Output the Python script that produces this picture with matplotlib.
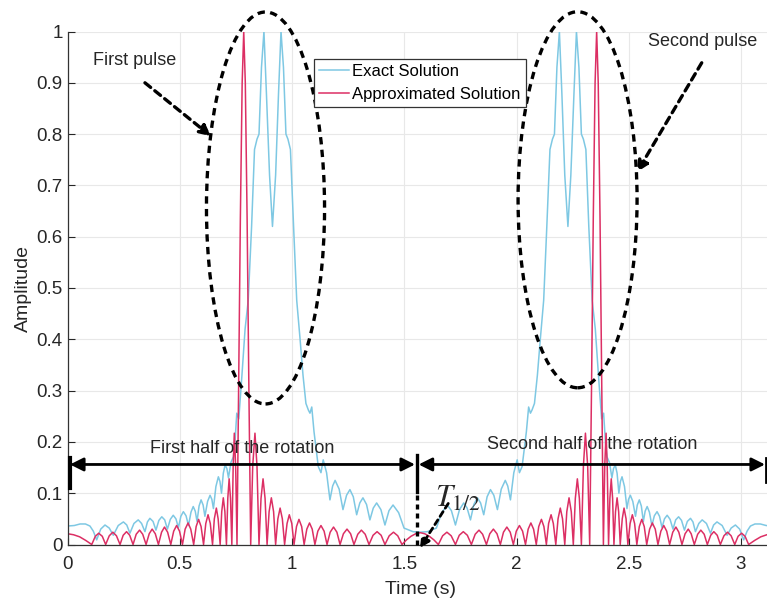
import numpy as np
import matplotlib
matplotlib.use("Agg")
import matplotlib.pyplot as plt
from matplotlib.patches import Ellipse

plt.rcParams['font.family'] = ['Liberation Sans', 'DejaVu Sans']
plt.rcParams['mathtext.fontset'] = 'stix'

# ---- data -------------------------------------------------------------
# Exact solution (light blue): time (s) and amplitude
exact_t = [
    0.000, 0.030, 0.056, 0.080, 0.100, 0.115, 0.130, 0.148, 0.167, 0.186,
    0.204, 0.226, 0.249, 0.264, 0.278, 0.296, 0.315, 0.330, 0.345, 0.356,
    0.367, 0.381, 0.394, 0.407, 0.420, 0.433, 0.445, 0.458, 0.471, 0.483,
    0.494, 0.505, 0.516, 0.528, 0.539, 0.550, 0.560, 0.569, 0.577, 0.586,
    0.595, 0.604, 0.612, 0.624, 0.635, 0.643, 0.650, 0.661, 0.672, 0.679,
    0.686, 0.694, 0.702, 0.710, 0.717, 0.728, 0.739, 0.746, 0.754, 0.763,
    0.777, 0.791, 0.805, 0.820, 0.833, 0.844, 0.853, 0.864, 0.875, 0.886,
    0.900, 0.913, 0.927, 0.940, 0.951, 0.962, 0.973, 0.982, 0.993, 1.007,
    1.021, 1.036, 1.049, 1.062, 1.073, 1.080, 1.088, 1.098, 1.117, 1.129,
    1.139, 1.154, 1.169, 1.181, 1.192, 1.210, 1.227, 1.243, 1.258, 1.273,
    1.288, 1.302, 1.316, 1.332, 1.347, 1.362, 1.377, 1.396, 1.414, 1.432,
    1.450, 1.475, 1.499, 1.539, 1.571,
    1.603, 1.643, 1.667, 1.692, 1.710, 1.728, 1.746, 1.765, 1.780, 1.795,
    1.810, 1.826, 1.840, 1.854, 1.869, 1.884, 1.899, 1.915, 1.932, 1.950,
    1.961, 1.973, 1.988, 2.003, 2.013, 2.025, 2.044, 2.054, 2.062, 2.069,
    2.080, 2.093, 2.106, 2.121, 2.135, 2.149, 2.160, 2.169, 2.180, 2.191,
    2.202, 2.215, 2.229, 2.242, 2.256, 2.267, 2.278, 2.289, 2.298, 2.309,
    2.322, 2.337, 2.351, 2.365, 2.379, 2.388, 2.396, 2.403, 2.414, 2.425,
    2.432, 2.440, 2.448, 2.456, 2.463, 2.470, 2.481, 2.492, 2.499, 2.507,
    2.518, 2.530, 2.538, 2.547, 2.556, 2.565, 2.573, 2.582, 2.592, 2.603,
    2.614, 2.626, 2.637, 2.648, 2.659, 2.671, 2.684, 2.697, 2.709, 2.722,
    2.735, 2.748, 2.761, 2.775, 2.786, 2.797, 2.812, 2.827, 2.846, 2.864,
    2.878, 2.893, 2.916, 2.938, 2.956, 2.975, 2.994, 3.012, 3.027, 3.042,
    3.062, 3.086, 3.112, 3.142,
]
exact_amp = [
    0.036, 0.037, 0.040, 0.040, 0.036, 0.026, 0.009, 0.030, 0.038, 0.032,
    0.018, 0.037, 0.044, 0.038, 0.022, 0.041, 0.048, 0.041, 0.025, 0.044,
    0.051, 0.045, 0.028, 0.047, 0.054, 0.048, 0.030, 0.049, 0.057, 0.050,
    0.033, 0.055, 0.064, 0.056, 0.037, 0.063, 0.074, 0.065, 0.045, 0.075,
    0.087, 0.077, 0.055, 0.084, 0.096, 0.088, 0.070, 0.113, 0.132, 0.123,
    0.100, 0.139, 0.155, 0.148, 0.130, 0.160, 0.171, 0.200, 0.256, 0.245,
    0.330, 0.420, 0.476, 0.620, 0.770, 0.790, 0.800, 0.930, 1.000, 0.880,
    0.720, 0.620, 0.720, 0.880, 1.000, 0.930, 0.800, 0.790, 0.770, 0.620,
    0.476, 0.400, 0.330, 0.275, 0.262, 0.256, 0.268, 0.220, 0.152, 0.140,
    0.165, 0.140, 0.087, 0.114, 0.125, 0.108, 0.068, 0.096, 0.107, 0.093,
    0.058, 0.081, 0.091, 0.078, 0.048, 0.071, 0.081, 0.068, 0.038, 0.066,
    0.077, 0.062, 0.032, 0.025, 0.024,
    0.025, 0.032, 0.062, 0.077, 0.066, 0.038, 0.068, 0.081, 0.071, 0.048,
    0.078, 0.091, 0.081, 0.058, 0.093, 0.107, 0.096, 0.068, 0.108, 0.125,
    0.114, 0.087, 0.140, 0.165, 0.140, 0.152, 0.220, 0.268, 0.256, 0.262,
    0.275, 0.330, 0.400, 0.476, 0.620, 0.770, 0.790, 0.800, 0.930, 1.000,
    0.880, 0.720, 0.620, 0.720, 0.880, 1.000, 0.930, 0.800, 0.790, 0.770,
    0.620, 0.476, 0.420, 0.330, 0.245, 0.256, 0.200, 0.171, 0.160, 0.130,
    0.148, 0.155, 0.139, 0.100, 0.123, 0.132, 0.113, 0.070, 0.088, 0.096,
    0.084, 0.055, 0.077, 0.087, 0.075, 0.045, 0.065, 0.074, 0.063, 0.037,
    0.056, 0.064, 0.055, 0.033, 0.050, 0.057, 0.049, 0.030, 0.048, 0.054,
    0.047, 0.028, 0.045, 0.051, 0.044, 0.025, 0.041, 0.048, 0.041, 0.022,
    0.038, 0.044, 0.037, 0.018, 0.032, 0.038, 0.030, 0.009, 0.026, 0.036,
    0.040, 0.040, 0.037, 0.036,
]

# Approximated solution (crimson): one row per side lobe
approx_t = [
    0.000, 0.027, 0.054, 0.081, 0.108,
    0.124, 0.139, 0.155, 0.170,
    0.186, 0.202, 0.218, 0.234,
    0.248, 0.263, 0.277, 0.292,
    0.306, 0.321, 0.335, 0.350,
    0.364, 0.377, 0.391, 0.405,
    0.419, 0.432, 0.446, 0.460,
    0.473, 0.486, 0.499, 0.512,
    0.524, 0.537, 0.549, 0.562,
    0.573, 0.584, 0.595, 0.606,
    0.616, 0.626, 0.636, 0.646,
    0.654, 0.663, 0.671, 0.680,
    0.687, 0.694, 0.701, 0.708,
    0.714, 0.720, 0.726, 0.732,
    0.738, 0.743, 0.749, 0.755,
    0.762, 0.770, 0.778, 0.785, 0.792, 0.800, 0.808, 0.816,
    0.825, 0.835, 0.844, 0.853,
    0.862, 0.871, 0.880, 0.889,
    0.898, 0.908, 0.918, 0.927,
    0.937, 0.947, 0.957, 0.967,
    0.978, 0.988, 0.999, 1.009,
    1.020, 1.031, 1.043, 1.054,
    1.066, 1.078, 1.090, 1.102,
    1.115, 1.129, 1.143, 1.156,
    1.170, 1.185, 1.200, 1.214,
    1.229, 1.245, 1.261, 1.276,
    1.293, 1.309, 1.326, 1.343,
    1.361, 1.379, 1.397, 1.414,
    1.433, 1.452, 1.471, 1.490,
    1.510, 1.530, 1.551, 1.571, 1.591, 1.612, 1.632, 1.652,
    1.671, 1.690, 1.709, 1.728,
    1.745, 1.763, 1.781, 1.799,
    1.816, 1.833, 1.849, 1.866,
    1.881, 1.897, 1.913, 1.928,
    1.942, 1.957, 1.972, 1.986,
    1.999, 2.013, 2.027, 2.040,
    2.052, 2.064, 2.076, 2.088,
    2.099, 2.111, 2.122, 2.133,
    2.143, 2.154, 2.164, 2.175,
    2.185, 2.195, 2.205, 2.215,
    2.224, 2.234, 2.244, 2.253,
    2.262, 2.271, 2.280, 2.289,
    2.298, 2.307, 2.317, 2.326,
    2.334, 2.342, 2.350, 2.357, 2.364, 2.372, 2.380, 2.387,
    2.393, 2.399, 2.404, 2.410,
    2.416, 2.422, 2.428, 2.434,
    2.441, 2.448, 2.455, 2.462,
    2.471, 2.479, 2.488, 2.496,
    2.506, 2.516, 2.526, 2.536,
    2.547, 2.558, 2.569, 2.580,
    2.593, 2.605, 2.618, 2.630,
    2.643, 2.656, 2.669, 2.682,
    2.696, 2.710, 2.723, 2.737,
    2.751, 2.765, 2.778, 2.792,
    2.807, 2.821, 2.836, 2.850,
    2.865, 2.879, 2.894, 2.908,
    2.924, 2.940, 2.956, 2.972,
    2.987, 3.003, 3.018, 3.034,
    3.061, 3.088, 3.115, 3.142,
]
approx_amp = [
    0.021, 0.019, 0.015, 0.008, 0.000,
    0.016, 0.022, 0.016, 0.000,
    0.017, 0.024, 0.017, 0.000,
    0.018, 0.025, 0.018, 0.000,
    0.020, 0.028, 0.020, 0.000,
    0.021, 0.030, 0.021, 0.000,
    0.024, 0.034, 0.024, 0.000,
    0.026, 0.037, 0.026, 0.000,
    0.030, 0.042, 0.030, 0.000,
    0.035, 0.049, 0.035, 0.000,
    0.041, 0.058, 0.041, 0.000,
    0.050, 0.071, 0.050, 0.000,
    0.064, 0.091, 0.064, 0.000,
    0.090, 0.128, 0.090, 0.000,
    0.153, 0.217, 0.153, 0.000,
    0.300, 0.637, 0.900, 1.000, 0.900, 0.637, 0.300, 0.000,
    0.153, 0.217, 0.153, 0.000,
    0.090, 0.128, 0.090, 0.000,
    0.064, 0.091, 0.064, 0.000,
    0.050, 0.071, 0.050, 0.000,
    0.041, 0.058, 0.041, 0.000,
    0.035, 0.049, 0.035, 0.000,
    0.030, 0.042, 0.030, 0.000,
    0.026, 0.037, 0.026, 0.000,
    0.024, 0.034, 0.024, 0.000,
    0.021, 0.030, 0.021, 0.000,
    0.020, 0.028, 0.020, 0.000,
    0.018, 0.025, 0.018, 0.000,
    0.017, 0.024, 0.017, 0.000,
    0.009, 0.016, 0.021, 0.023, 0.021, 0.016, 0.009, 0.000,
    0.017, 0.024, 0.017, 0.000,
    0.018, 0.025, 0.018, 0.000,
    0.020, 0.028, 0.020, 0.000,
    0.021, 0.030, 0.021, 0.000,
    0.024, 0.034, 0.024, 0.000,
    0.026, 0.037, 0.026, 0.000,
    0.030, 0.042, 0.030, 0.000,
    0.035, 0.049, 0.035, 0.000,
    0.041, 0.058, 0.041, 0.000,
    0.050, 0.071, 0.050, 0.000,
    0.064, 0.091, 0.064, 0.000,
    0.090, 0.128, 0.090, 0.000,
    0.153, 0.217, 0.153, 0.000,
    0.300, 0.637, 0.900, 1.000, 0.900, 0.637, 0.300, 0.000,
    0.153, 0.217, 0.153, 0.000,
    0.090, 0.128, 0.090, 0.000,
    0.064, 0.091, 0.064, 0.000,
    0.050, 0.071, 0.050, 0.000,
    0.041, 0.058, 0.041, 0.000,
    0.035, 0.049, 0.035, 0.000,
    0.030, 0.042, 0.030, 0.000,
    0.026, 0.037, 0.026, 0.000,
    0.024, 0.034, 0.024, 0.000,
    0.021, 0.030, 0.021, 0.000,
    0.020, 0.028, 0.020, 0.000,
    0.018, 0.025, 0.018, 0.000,
    0.017, 0.024, 0.017, 0.000,
    0.016, 0.022, 0.016, 0.000,
    0.008, 0.015, 0.019, 0.021,
]

x_ticks = [0, 0.5, 1, 1.5, 2, 2.5, 3]
x_tick_labels = ['0', '0.5', '1', '1.5', '2', '2.5', '3']
y_ticks = [0, 0.1, 0.2, 0.3, 0.4, 0.5, 0.6, 0.7, 0.8, 0.9, 1]
y_tick_labels = ['0', '0.1', '0.2', '0.3', '0.4', '0.5', '0.6', '0.7', '0.8', '0.9', '1']

half_period = 1.556  # T_1/2 marker position (s)

# ---- figure -----------------------------------------------------------
W, H = 767, 608
fig = plt.figure(figsize=(W / 100, H / 100), dpi=100)
ax = fig.add_axes([67.5 / W, 63.5 / H, 705.3 / W, 513 / H])
ax.set_xlim(0, np.pi)
ax.set_ylim(0, 1)

ax.grid(True, color='#e8e8e8', lw=0.8)
ax.set_axisbelow(True)
for s in ('top', 'right'):
    ax.spines[s].set_visible(False)
for s in ('left', 'bottom'):
    ax.spines[s].set_color('#333333')
    ax.spines[s].set_linewidth(0.9)

ax.set_xticks(x_ticks)
ax.set_xticklabels(x_tick_labels)
ax.set_yticks(y_ticks)
ax.set_yticklabels(y_tick_labels)
ax.tick_params(direction='in', length=5, width=0.8, colors='#262626',
               labelsize=13.5)
ax.tick_params(axis='x', pad=8)
ax.tick_params(axis='y', pad=3.5)
ax.set_xlabel('Time (s)', fontsize=14, color='#262626', labelpad=6)
ax.set_ylabel('Amplitude', fontsize=14, color='#262626', labelpad=3)

blue = '#7ec8e3'
red = '#dc2f64'
ax.plot(exact_t, exact_amp, color=blue, lw=1.1, label='Exact Solution')
ax.plot(approx_t, approx_amp, color=red, lw=1.1, label='Approximated Solution')

leg = ax.legend(loc='upper left', bbox_to_anchor=(314 / W, 1 - 59 / H),
                bbox_transform=fig.transFigure, fontsize=12, frameon=True,
                fancybox=False, edgecolor='#333333', framealpha=1,
                borderaxespad=0, borderpad=0.3, labelspacing=0.5,
                handlelength=1.8, handletextpad=0.2)
leg.get_frame().set_linewidth(0.9)

# ---- annotations ------------------------------------------------------
dash = (0, (2.2, 1.6))
for cx, cy, w, h in [(0.882, 0.656, 0.526, 0.764), (2.272, 0.672, 0.530, 0.733)]:
    ax.add_patch(Ellipse((cx, cy), w, h, fill=False, ec='black', lw=2.4,
                         ls=dash, clip_on=False, zorder=5))

arrow_kw = dict(arrowstyle='-|>', color='black', lw=2.4, ls=dash,
                mutation_scale=16, shrinkA=0, shrinkB=0)
ax.annotate('', xy=(0.639, 0.796), xytext=(0.345, 0.900),
            arrowprops=arrow_kw, annotation_clip=False, zorder=6)
ax.annotate('', xy=(2.537, 0.726), xytext=(2.825, 0.939),
            arrowprops=arrow_kw, annotation_clip=False, zorder=6)
ax.annotate('', xy=(1.570, -0.007), xytext=(1.696, 0.080),
            arrowprops=dict(arrowstyle='-|>', color='black', lw=2.0, ls=(0, (2, 1.5)),
                            mutation_scale=14, shrinkA=0, shrinkB=0),
            annotation_clip=False, zorder=6)

ax.text(0.299, 0.944, 'First pulse', fontsize=13, ha='center', va='center',
        color='#262626')
ax.text(2.831, 0.980, 'Second pulse', fontsize=13, ha='center', va='center',
        color='#262626')

# rotation halves
yarr = 0.156
dbl = dict(arrowstyle='<|-|>', color='black', lw=2.0, mutation_scale=20,
           shrinkA=0, shrinkB=0)
ax.annotate('', xy=(half_period - 0.008, yarr), xytext=(0.011, yarr),
            arrowprops=dbl, annotation_clip=False, zorder=6)
ax.annotate('', xy=(3.107, yarr), xytext=(half_period + 0.008, yarr),
            arrowprops=dbl, annotation_clip=False, zorder=6)
ax.plot([0.011, 0.011], [0.110, 0.168], color='black', lw=3, clip_on=False, zorder=6)
ax.plot([half_period, half_period], [0.102, 0.174], color='black', lw=2.4,
        clip_on=False, zorder=6)
ax.plot([half_period, half_period], [0.0, 0.102], color='black', lw=2.4,
        ls=(0, (1.5, 1.2)), clip_on=False, zorder=6)
ax.plot([3.112, 3.112], [0.122, 0.168], color='black', lw=2.0, clip_on=False, zorder=6)

ax.text(0.780, 0.188, 'First half of the rotation', fontsize=13, ha='center',
        va='center', color='#262626')
ax.text(2.336, 0.194, 'Second half of the rotation', fontsize=13, ha='center',
        va='center', color='#262626')
ax.text(1.637, 0.074, r'$T_{1/2}$', fontsize=22, ha='left', va='baseline',
        color='#262626')

fig.savefig('out.png', dpi=100, facecolor='white')
